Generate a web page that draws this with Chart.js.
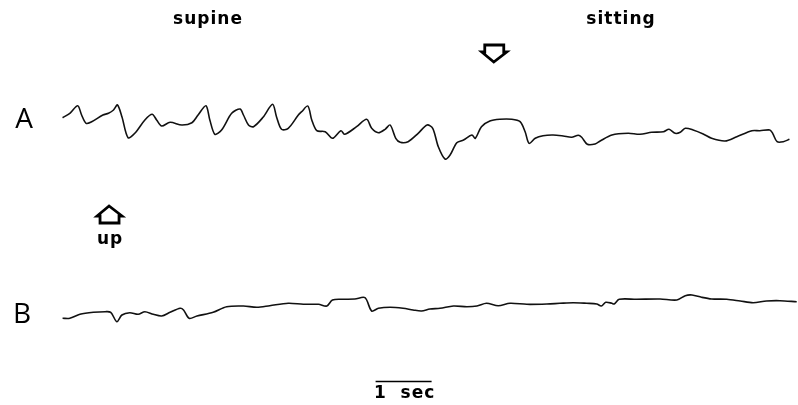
<!DOCTYPE html>
<html>
<head>
<meta charset="utf-8">
<script src="https://cdn.jsdelivr.net/npm/chart.js@4/dist/chart.umd.min.js"></script>
<style>
  html, body { margin: 0; padding: 0; background: #fff; }
  #wrap { width: 798px; height: 405px; }
</style>
</head>
<body>
<div id="wrap"><canvas id="chart" width="798" height="405"></canvas></div>
<script>
// trace A: time (s) and amplitude (arbitrary units, up positive)
const timeA = [0.01, 0.14, 0.28, 0.35, 0.43, 0.53, 0.73, 0.83, 0.92, 0.99, 1.07, 1.18, 1.30, 1.48, 1.61, 1.69, 1.78, 1.93, 2.14, 2.32,
  2.43, 2.57, 2.64, 2.73, 2.85, 3.03, 3.18, 3.24, 3.33, 3.42, 3.59, 3.76, 3.83, 3.92, 4.04, 4.22, 4.28, 4.39, 4.46, 4.55,
  4.70, 4.83, 4.98, 5.05, 5.26, 5.44, 5.53, 5.65, 5.77, 5.86, 5.96, 6.04, 6.18, 6.36, 6.52, 6.62, 6.72, 6.84, 6.93, 7.05,
  7.17, 7.32, 7.38, 7.49, 7.64, 7.82, 8.03, 8.18, 8.27, 8.34, 8.45, 8.59, 8.77, 8.95, 9.10, 9.22, 9.28, 9.38, 9.52, 9.61,
  9.82, 10.11, 10.32, 10.53, 10.74, 10.84, 10.95, 11.04, 11.13, 11.27, 11.45, 11.60, 11.84, 12.05, 12.32, 12.46, 12.64, 12.69, 12.77, 12.88, 12.99]
const traceA = [12.3, 16.7, 24.3, 15, 6.7, 8.3, 15, 16.7, 20, 25, 13.3, -7.7, -3.3, 10, 15.7, 10, 4, 7.7, 5, 7.3,
  15, 24.3, 10, -4.3, 0, 16.7, 21, 15, 5, 3.3, 12.7, 25.7, 13.3, 0.7, 1.7, 15, 18.3, 24, 10, -0.7,
  -1.7, -8.3, -0.7, -4.3, 3.3, 10.7, 1.7, -2.7, 0.7, 5, -8.3, -12.3, -11.7, -3.3, 5, 1.7, -16.7, -29, -25, -12.7,
  -10, -5, -8.3, 3.3, 9, 10.7, 10.7, 8.3, -1.7, -13.3, -8.3, -5.7, -5, -6, -7.3, -5.3, -7.3, -14.3, -14, -11,
  -5, -3.3, -4.3, -2.3, -1.7, 0.7, -3.3, -2.3, 1.7, 0, -4, -8.3, -11, -6.7, -0.7, -0.7, 0, -3.3, -11.7, -11.7, -9.3]

// trace B
const timeB = [0.01, 0.14, 0.32, 0.56, 0.77, 0.87, 0.98, 1.07, 1.21, 1.36, 1.48, 1.63, 1.78, 1.93, 2.11, 2.17, 2.27, 2.41, 2.70, 2.94,
  3.24, 3.48, 3.71, 4.04, 4.31, 4.58, 4.73, 4.83, 5.02, 5.23, 5.41, 5.53, 5.65, 5.86, 6.09, 6.27, 6.42, 6.57, 6.75, 6.99,
  7.23, 7.41, 7.58, 7.79, 8.00, 8.30, 8.66, 8.89, 9.13, 9.37, 9.55, 9.63, 9.71, 9.82, 9.86, 9.95, 10.26, 10.68, 10.98, 11.13,
  11.25, 11.42, 11.60, 11.87, 12.11, 12.34, 12.58, 12.82, 13.12]
const traceB = [-8.3, -8.3, -4.3, -2.3, -1.7, -2.3, -11.7, -5, -2.7, -4.3, -1.7, -4.3, -6, -2.3, 1.7, 0, -8.3, -6, -2.3, 3.3,
  4, 2.7, 4.3, 6.7, 5.7, 5.7, 4, 10, 10.7, 11, 12.3, -1, 1.7, 2.7, 1.7, 0, -1, 1, 1.7, 4,
  3.3, 4, 6.7, 4.3, 6.7, 5.7, 6, 6.7, 7.3, 6.7, 6, 4, 7.7, 6.7, 6, 10.7, 10.7, 11, 10, 14.3,
  15, 12.7, 11, 10.7, 9, 7.3, 9, 9.3, 8.3]

const traceLabels = ['A', 'B']
const postureLabels = ['supine', 'sitting']
const standUpTime = 0.84
const sitTime = 7.71
const scaleBar = [5.6, 6.6]

// layout (pixels of the 405 px high canvas, counted from the bottom)
const baseA = 275
const baseB = 95

const toPoints = (t, v, base) => t.map((x, i) => ({ x: x, y: v[i] + base }))

const hollowArrow = (ctx, x, y, dir) => {
  // dir 1 = points down, -1 = points up; y is the tip
  ctx.beginPath()
  ctx.moveTo(x, y)
  ctx.lineTo(x - 12, y - dir * 10)
  ctx.lineTo(x - 9, y - dir * 10)
  ctx.lineTo(x - 9, y - dir * 17)
  ctx.lineTo(x + 10, y - dir * 17)
  ctx.lineTo(x + 10, y - dir * 10)
  ctx.lineTo(x + 13, y - dir * 10)
  ctx.closePath()
  ctx.lineWidth = 2.8
  ctx.lineJoin = 'miter'
  ctx.strokeStyle = '#000'
  ctx.stroke()
}

const labelFont = 'bold 17px "DejaVu Sans", sans-serif'

const annotations = {
  id: 'annotations',
  afterDraw: (chart) => {
    const ctx = chart.ctx
    const xs = chart.scales.x
    ctx.save()
    ctx.fillStyle = '#000'
    ctx.textAlign = 'center'
    ctx.textBaseline = 'alphabetic'

    ctx.font = labelFont
    ctx.letterSpacing = '1px'
    ctx.fillText(postureLabels[0], 208, 24)
    ctx.fillText(postureLabels[1], 621, 24)
    ctx.fillText('up', xs.getPixelForValue(standUpTime) + 1, 244)

    ctx.letterSpacing = '0px'
    ctx.font = '28px "Open Sans", sans-serif'
    ctx.fillText(traceLabels[0], 24, 128)
    ctx.fillText(traceLabels[1], 22, 323)

    hollowArrow(ctx, xs.getPixelForValue(sitTime), 62, 1)
    hollowArrow(ctx, xs.getPixelForValue(standUpTime), 206, -1)

    const x1 = xs.getPixelForValue(scaleBar[0])
    const x2 = xs.getPixelForValue(scaleBar[1])
    ctx.beginPath()
    ctx.moveTo(x1, 381.5)
    ctx.lineTo(x2, 381.5)
    ctx.lineWidth = 1.5
    ctx.stroke()
    ctx.font = labelFont
    ctx.letterSpacing = '1px'
    ctx.fillText('1  sec', (x1 + x2) / 2 + 1, 398)
    ctx.restore()
  }
}

const lineStyle = {
  borderColor: '#111',
  borderWidth: 1.6,
  pointRadius: 0,
  tension: 0.3,
  fill: false
}

new Chart(document.getElementById('chart'), {
  type: 'line',
  data: {
    datasets: [
      { label: traceLabels[0], data: toPoints(timeA, traceA, baseA), ...lineStyle },
      { label: traceLabels[1], data: toPoints(timeB, traceB, baseB), ...lineStyle }
    ]
  },
  options: {
    responsive: false,
    animation: false,
    layout: { padding: 0 },
    plugins: {
      legend: { display: false },
      tooltip: { enabled: false }
    },
    scales: {
      x: { type: 'linear', min: -62 / 56, max: 736 / 56, display: false },
      y: { min: 0, max: 405, display: false }
    }
  },
  plugins: [annotations]
})
</script>
</body>
</html>
